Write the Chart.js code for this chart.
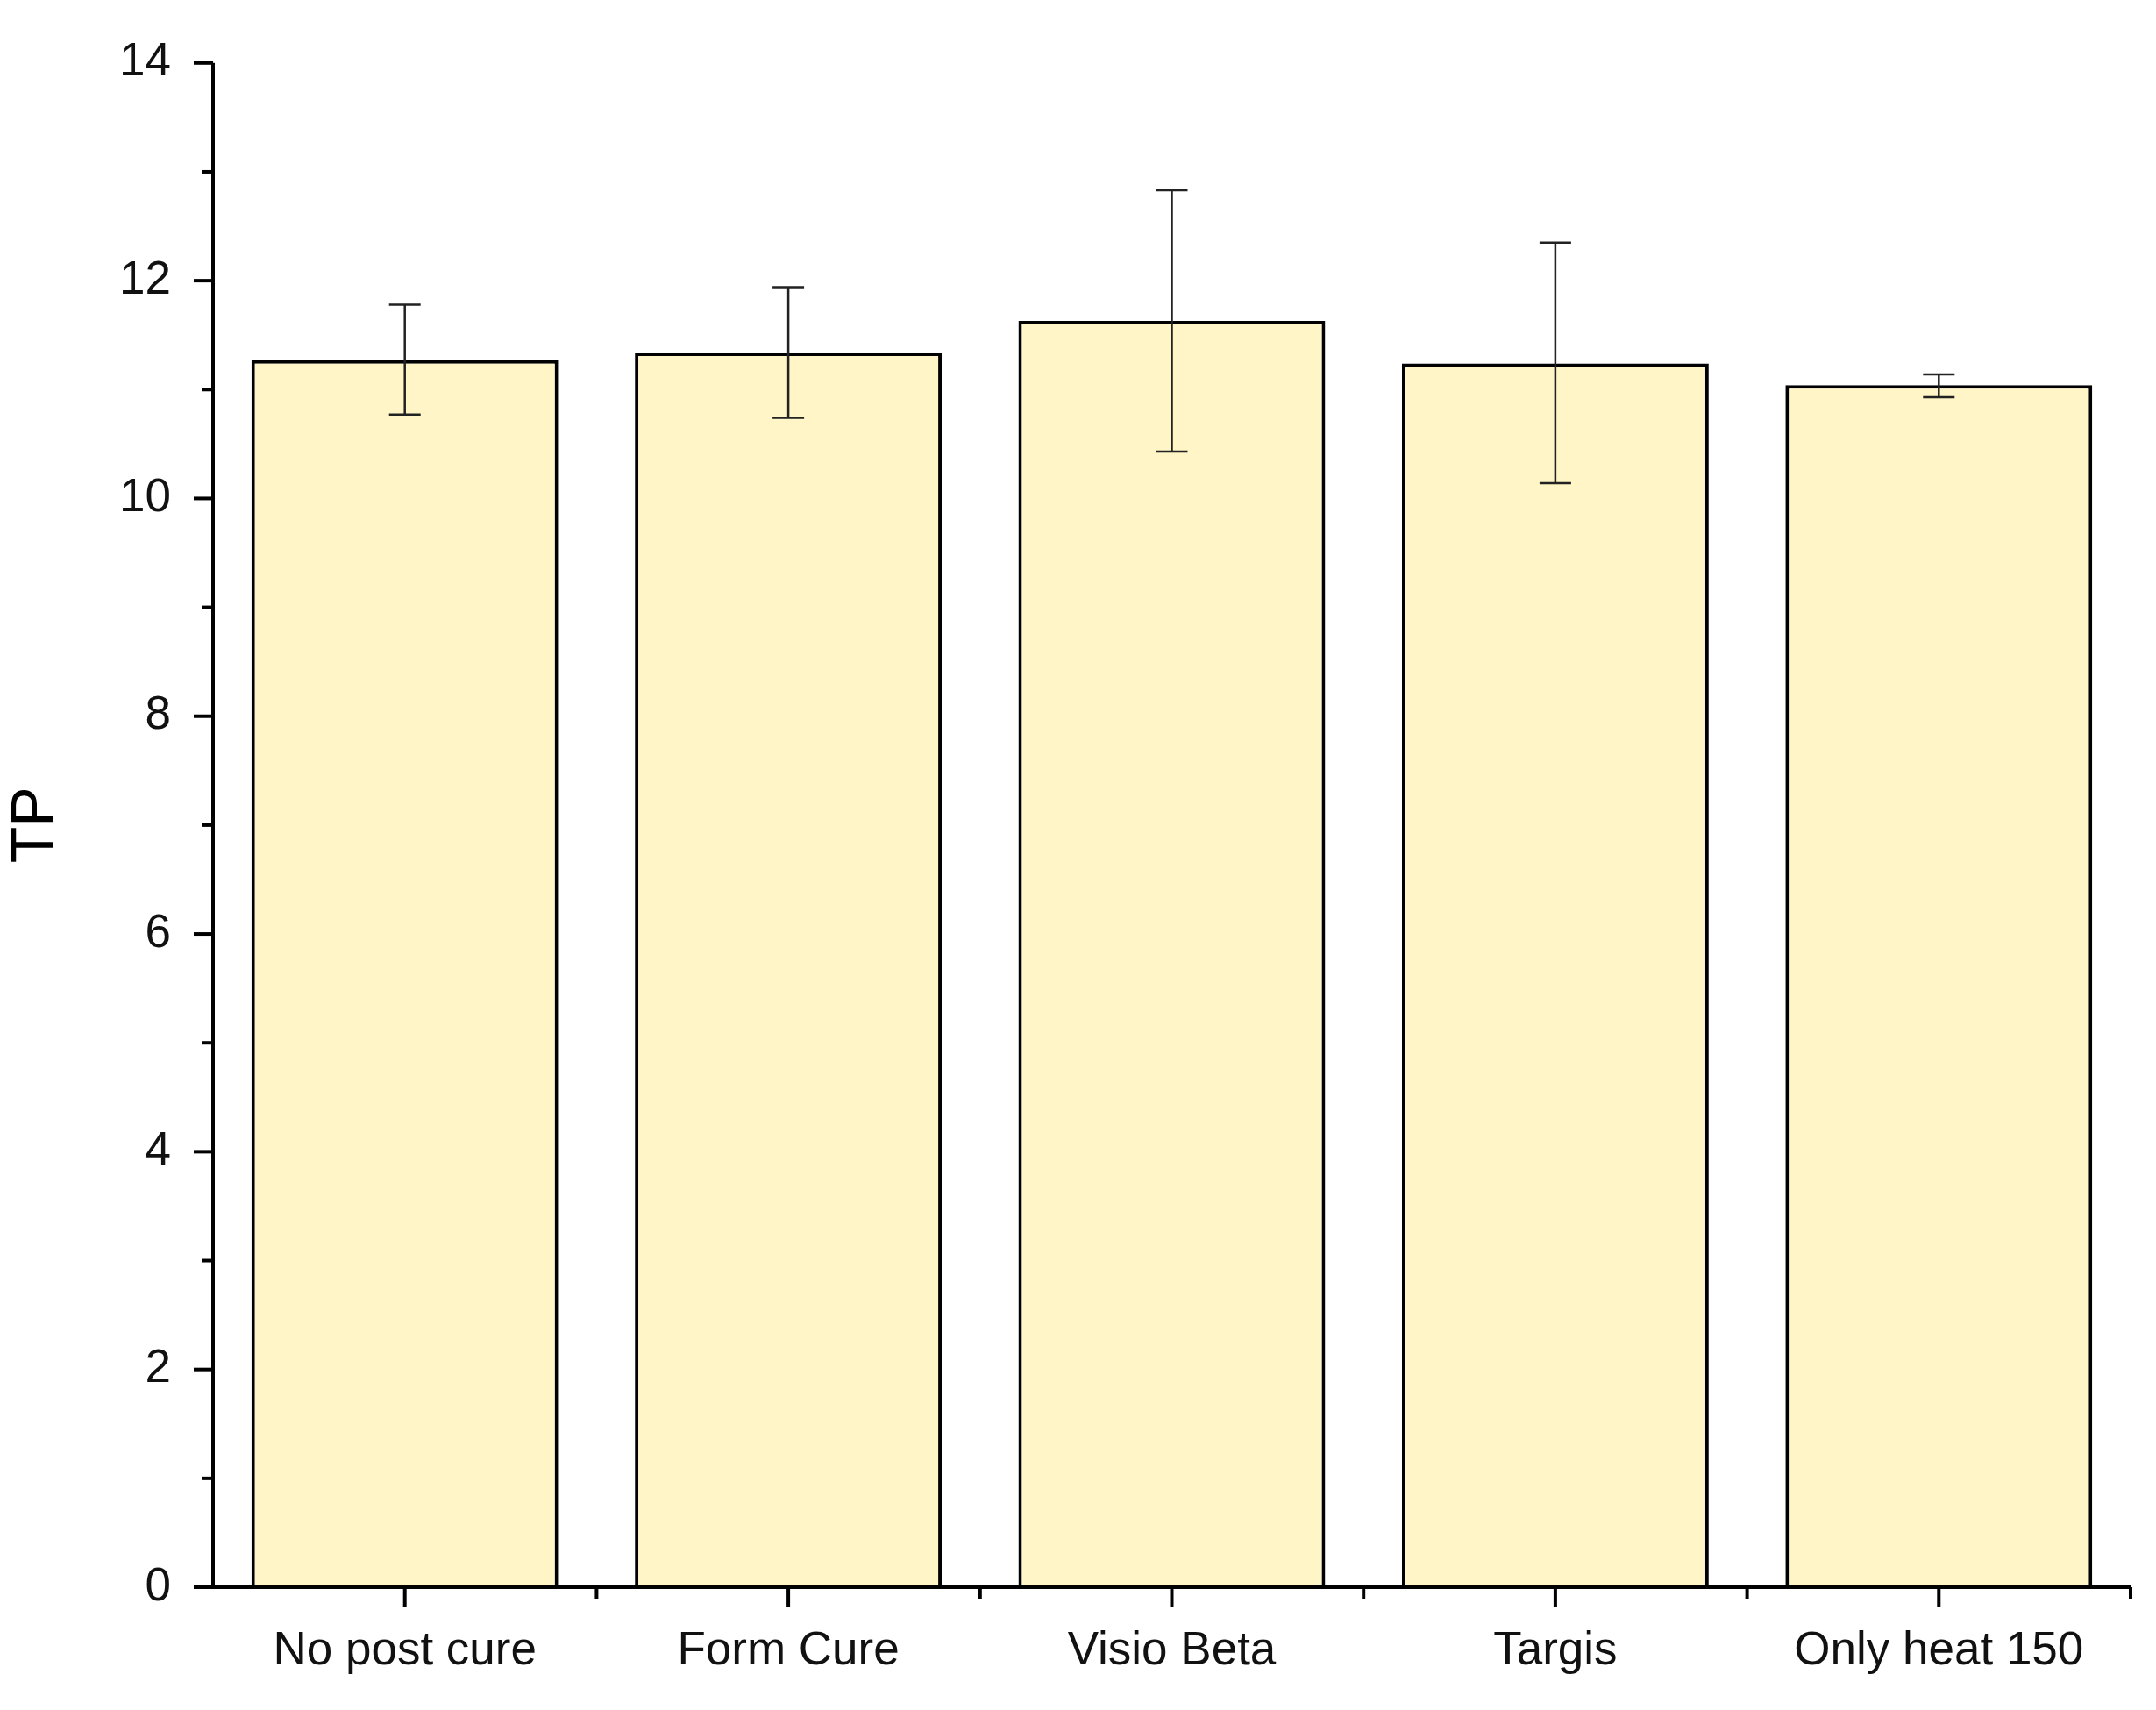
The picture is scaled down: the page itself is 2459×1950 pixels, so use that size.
<!DOCTYPE html>
<html>
<head>
<meta charset="utf-8">
<script src="https://cdn.jsdelivr.net/npm/chart.js@4"></script>
<style>
  body { margin: 0; background: #fff; }
</style>
</head>
<body>
<canvas id="tpChart" width="2459" height="1950"></canvas>
<script>
const categories = ['No post cure', 'Form Cure', 'Visio Beta', 'Targis', 'Only heat 150'];
const tpValues = [11.27, 11.34, 11.63, 11.24, 11.04];
const errUpper = [11.78, 11.94, 12.83, 12.35, 11.14];
const errLower = [10.77, 10.74, 10.43, 10.14, 10.93];

// axis lines, outward ticks (major + minor) and error bars
const extrasPlugin = {
  id: 'extras',
  afterDatasetsDraw(chart) {
    const { ctx, scales: { x, y }, chartArea } = chart;
    ctx.save();
    ctx.strokeStyle = '#000';
    ctx.lineWidth = 4;
    ctx.beginPath();
    ctx.moveTo(chartArea.left, chartArea.top);
    ctx.lineTo(chartArea.left, chartArea.bottom);
    ctx.lineTo(chartArea.right, chartArea.bottom);
    ctx.stroke();

    // y ticks
    for (let v = 0; v <= 14; v += 1) {
      const py = y.getPixelForValue(v);
      const len = v % 2 === 0 ? 22 : 13;
      ctx.beginPath();
      ctx.moveTo(chartArea.left - len, py);
      ctx.lineTo(chartArea.left, py);
      ctx.stroke();
    }
    // x ticks: centres and boundaries
    const step = x.getPixelForValue(1) - x.getPixelForValue(0);
    for (let i = 0; i < categories.length; i++) {
      const c = x.getPixelForValue(i);
      [c, c + step / 2].forEach((px, k) => {
        ctx.beginPath();
        ctx.moveTo(px, chartArea.bottom);
        ctx.lineTo(px, chartArea.bottom + (k === 0 ? 22 : 13));
        ctx.stroke();
      });
    }

    // error bars
    ctx.lineWidth = 2.5;
    ctx.strokeStyle = '#222';
    const cap = 18;
    categories.forEach((c, i) => {
      const px = x.getPixelForValue(i);
      const top = y.getPixelForValue(errUpper[i]);
      const bot = y.getPixelForValue(errLower[i]);
      ctx.beginPath();
      ctx.moveTo(px, top); ctx.lineTo(px, bot);
      ctx.moveTo(px - cap, top); ctx.lineTo(px + cap, top);
      ctx.moveTo(px - cap, bot); ctx.lineTo(px + cap, bot);
      ctx.stroke();
    });
    ctx.restore();
  },
};

new Chart(document.getElementById('tpChart'), {
  type: 'bar',
  data: {
    labels: categories,
    datasets: [{
      label: 'TP',
      data: tpValues,
      backgroundColor: '#FFF5C6',
      borderColor: '#000',
      borderWidth: 4,
      barPercentage: 0.8,
      categoryPercentage: 1,
    }],
  },
  options: {
    responsive: false,
    animation: false,
    layout: { padding: { top: 50, right: 29, left: 0, bottom: 0 } },
    plugins: { legend: { display: false }, tooltip: { enabled: false } },
    scales: {
      x: {
        grid: { display: false },
        border: { display: false },
        ticks: { color: '#111', padding: 34, font: { family: 'Liberation Sans', size: 53 } },
        afterFit: (scale) => { scale.height = 140; },
      },
      y: {
        min: 0,
        max: 14,
        grid: { display: false },
        border: { display: false },
        ticks: { stepSize: 2, color: '#111', padding: 40, font: { family: 'Liberation Sans', size: 53 } },
        title: { display: true, text: 'TP', color: '#000', padding: { top: 0, bottom: 0 }, font: { family: 'Liberation Sans', size: 68 } },
        afterFit: (scale) => { scale.width = 243; },
      },
    },
  },
  plugins: [extrasPlugin],
});
</script>
</body>
</html>
